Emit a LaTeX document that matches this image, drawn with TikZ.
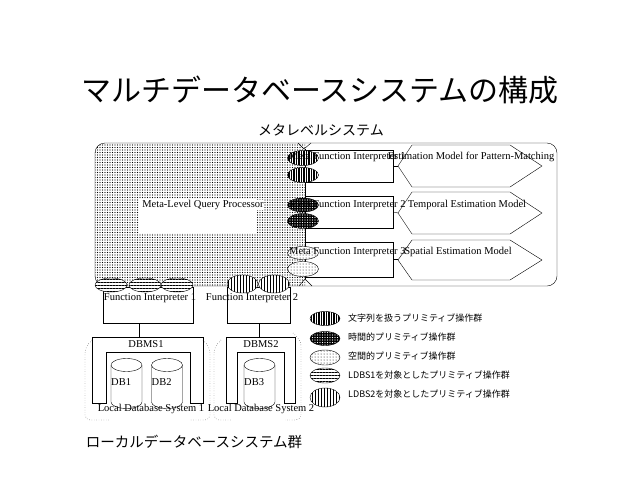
\documentclass[tikz,border=0pt]{standalone}
\usepackage{fontspec}
\setmainfont{Liberation Serif}
\newfontfamily\jp{Noto Sans CJK JP}
\usetikzlibrary{patterns,patterns.meta}
\begin{document}
\begin{tikzpicture}[x=1pt,y=-1pt,
  lbl/.style={font=\fontsize{10.5}{12}\selectfont, inner sep=0pt},
  jl/.style={font=\jp\fontsize{9}{11}\selectfont, inner sep=0pt, anchor=west},
  boxx/.style={draw, fill=white, inner sep=0pt},
  opA/.style={draw, preaction={fill=black}, pattern={Lines[angle=90,distance=2.5pt,line width=0.35pt]}, pattern color=white},
  opB/.style={draw, preaction={fill=black}, pattern={Dots[distance=2.5pt,radius=0.6pt]}, pattern color=white},
  opC/.style={draw, preaction={fill=white}, pattern={Dots[distance=3pt,radius=0.5pt]}},
  opD/.style={draw, preaction={fill=white}, pattern={Lines[angle=0,distance=3pt,line width=0.6pt]}},
  opE/.style={draw, preaction={fill=white}, pattern={Lines[angle=90,distance=3pt,line width=0.6pt]}},
  bracket/.style={dotted, rounded corners=5pt},
]
\path[use as bounding box] (0,0) rectangle (640,480);

% titles
\node[font=\jp\fontsize{30}{36}\selectfont, inner sep=0pt] (title) at (320,90) {マルチデータベースシステムの構成};
\node[font=\jp\fontsize{14}{16}\selectfont, inner sep=0pt] (meta) at (321,130) {メタレベルシステム};
\node[font=\jp\fontsize{14.5}{16}\selectfont, inner sep=0pt] (local) at (194,442) {ローカルデータベースシステム群};

% meta-level query processor region
\begin{scope}
\clip[rounded corners=10pt] (95,143) rectangle (557,286);
\fill[pattern={Dots[distance=2.5pt,radius=0.6pt]}] (95,143) rectangle (305,286);
\end{scope}
\fill[white] (139,199) rectangle (257,233);
\draw[rounded corners=10pt] (95,143) rectangle (557,286);
\draw (305,149) -- (305,279);
\draw (298,143) -- (304,149) -- (311,143);
\draw (299,286) -- (305,279) -- (312,286);

% function interpreter boxes
\node[boxx, minimum width=88pt, minimum height=32pt] (mf1) at (349,166) {};
\node[boxx, minimum width=88pt, minimum height=32pt] (mf2) at (349,212) {};
\node[boxx, minimum width=88pt, minimum height=35pt] (mf3) at (349,259.5) {};

% hexagons
\draw (398,166) -- (412,145) -- (510,145) -- (542,166) -- (510,187) -- (412,187) -- cycle;
\draw (398,213) -- (412,192) -- (510,192) -- (542,213) -- (510,234) -- (412,234) -- cycle;
\draw (398,260) -- (412,240) -- (510,240) -- (542,260) -- (510,280) -- (412,280) -- cycle;
\coordinate (h1) at (398,166);
\coordinate (h2) at (398,213);
\coordinate (h3) at (398,260);
\draw (mf1.east) -- (h1);
\draw (mf2.east) -- (h2);
\draw (mf3.east) -- (h3 |- mf3.east);

% primitive operation ellipses
\path[opA] (303,158) ellipse[x radius=15.5pt, y radius=7.5pt];
\path[opA] (303,175) ellipse[x radius=15.5pt, y radius=7.5pt];
\path[opB] (303,205) ellipse[x radius=15.5pt, y radius=7pt];
\path[opB] (303,221) ellipse[x radius=15.5pt, y radius=7.5pt];
\path[opC] (303,253) ellipse[x radius=15.5pt, y radius=6.5pt];
\path[opC] (303,269) ellipse[x radius=15.5pt, y radius=7.5pt];

% labels meta level
\node[lbl, fill=white, inner sep=0.5pt] (mlqp) at (203,205) {Meta-Level Query Processor};
\node[lbl, anchor=west] (t1) at (289,157) {Meta Function Interpreter 1};
\node[lbl, anchor=west] (t2) at (289,205) {Meta Function Interpreter 2};
\node[lbl, anchor=west] (t3) at (289,252) {Meta Function Interpreter 3};
\node[lbl] (e1) at (471,157) {Estimation Model for Pattern-Matching};
\node[lbl] (e2) at (467,205) {Temporal Estimation Model};
\node[lbl] (e3) at (458,252) {Spatial Estimation Model};

% local function interpreters
\node[boxx, minimum width=90pt, minimum height=36pt] (fi1) at (148,305) {};
\node[boxx, minimum width=63pt, minimum height=36pt] (fi2) at (258.5,305) {};
\path[opD] (111,285) ellipse[x radius=16pt, y radius=7pt];
\path[opD] (145,285) ellipse[x radius=16pt, y radius=7pt];
\path[opD] (177,285) ellipse[x radius=16pt, y radius=7pt];
\path[opE] (242.5,284) ellipse[x radius=15.5pt, y radius=9pt];
\path[opE] (274,284) ellipse[x radius=15.5pt, y radius=9pt];
\node[lbl] (fit1) at (150,298) {Function Interpreter 1};
\node[lbl] (fit2) at (252,298) {Function Interpreter 2};

% DBMS
\draw (92,403) -- (92,337) -- (203,337) -- (203,403) -- (190,403) -- (190,352) -- (106,352) -- (106,403) -- cycle;
\draw (226,403) -- (226,337) -- (295,337) -- (295,403) -- (284,403) -- (284,352) -- (237,352) -- (237,403) -- cycle;
\coordinate (d1) at (139,337);
\coordinate (d2) at (259,337);
\draw (fi1.south -| d1) -- (d1);
\draw (fi2.south -| d2) -- (d2);
\node[lbl] (dbms1) at (146,344) {DBMS1};
\node[lbl] (dbms2) at (261,344) {DBMS2};

% cylinders
\foreach \cx/\nm in {126.5/DB1, 167/DB2, 259.5/DB3}{
  \draw[fill=white] (\cx-15.5,365) -- (\cx-15.5,402) arc[start angle=180,end angle=360,x radius=15.5pt,y radius=6.5pt] -- (\cx+15.5,365);
  \draw (\cx,365) ellipse[x radius=15.5pt, y radius=6.5pt];
  \node[lbl, anchor=west] at (\cx-15.5,382) {\nm};
}

% local database systems
\draw[bracket] (92,340) -- (85,348) -- (85,420) -- (110,420);
\draw[bracket] (203,340) -- (210,348) -- (210,420) -- (190,420);
\draw[bracket] (221,340) -- (214,348) -- (214,420) -- (232,420);
\draw[bracket] (293,333) -- (301,341) -- (301,420) -- (285,420);
\node[lbl] (lds1) at (151,409) {Local Database System 1};
\node[lbl] (lds2) at (261,409) {Local Database System 2};

% legend
\path[opA] (325,318.5) ellipse[x radius=15pt, y radius=7pt];
\path[opB] (325,338.5) ellipse[x radius=15pt, y radius=7pt];
\path[opC] (325,357.5) ellipse[x radius=15pt, y radius=7.5pt];
\path[opD] (325,375.5) ellipse[x radius=15pt, y radius=7.5pt];
\path[opE] (325,397.5) ellipse[x radius=15pt, y radius=9.5pt];
\node[jl] (l1) at (348,318) {文字列を扱うプリミティブ操作群};
\node[jl] (l2) at (348,337) {時間的プリミティブ操作群};
\node[jl] (l3) at (348,356) {空間的プリミティブ操作群};
\node[jl] (l4) at (348,375) {LDBS1を対象としたプリミティブ操作群};
\node[jl] (l5) at (348,394) {LDBS2を対象としたプリミティブ操作群};
\end{tikzpicture}
\end{document}
